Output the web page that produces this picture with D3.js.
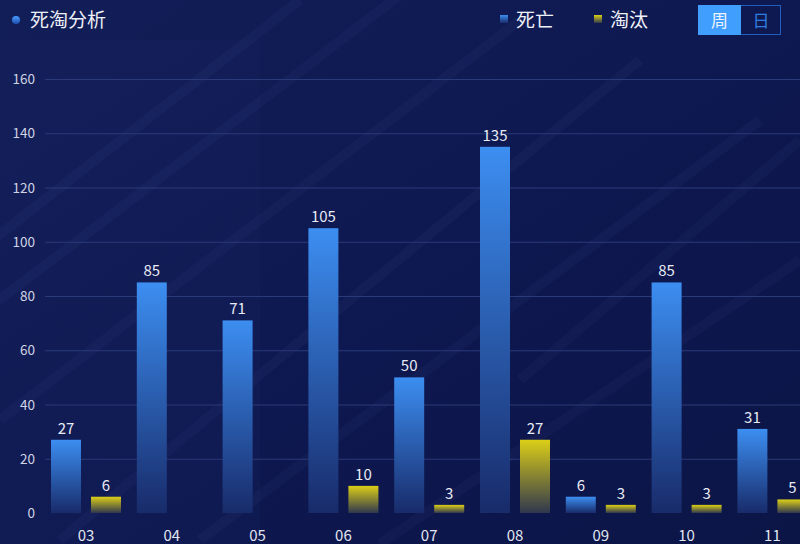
<!DOCTYPE html>
<html>
<head>
<meta charset="utf-8">
<script src="https://cdn.jsdelivr.net/npm/d3@7"></script>
<style>
  html, body { margin: 0; padding: 0; background: #0c1648; }
  svg { display: block; font-family: "Noto Sans CJK SC", "Noto Sans", sans-serif; }
</style>
</head>
<body>
<svg id="chart" width="800" height="544"></svg>
<script>
// Weekly death / cull counts
const weeks = ["03", "04", "05", "06", "07", "08", "09", "10", "11"];
const deaths = [27, 85, 71, 105, 50, 135, 6, 85, 31];
const culls = [6, null, null, 10, 3, 27, 3, 3, 5];
const yTicks = [0, 20, 40, 60, 80, 100, 120, 140, 160];
const seriesNames = ["死亡", "淘汰"];
const title = "死淘分析";
const toggles = ["周", "日"];

const W = 800, H = 544;
const svg = d3.select("#chart");
const defs = svg.append("defs");

// Background with a faint diagonal texture
const bg = defs.append("linearGradient").attr("id", "bg").attr("x1", 0).attr("y1", 0).attr("x2", 1).attr("y2", 1);
bg.append("stop").attr("offset", "0%").attr("stop-color", "#121e57");
bg.append("stop").attr("offset", "55%").attr("stop-color", "#0e1850");
bg.append("stop").attr("offset", "100%").attr("stop-color", "#0b1546");
svg.append("rect").attr("width", W).attr("height", H).attr("fill", "url(#bg)");

const texture = svg.append("g").attr("opacity", 0.03).attr("stroke", "#9fb4ff").attr("fill", "none");
[[-40, 330, 420, -20], [0, 420, 520, 20], [60, 540, 640, 60], [200, 540, 760, 120], [380, 544, 800, 260],
 [-20, 250, 300, 0], [520, 380, 800, 140]].forEach(s => {
  texture.append("line").attr("x1", s[0]).attr("y1", s[1]).attr("x2", s[2]).attr("y2", s[3]).attr("stroke-width", 10);
});
svg.append("rect").attr("x", 0).attr("y", 40).attr("width", 260).attr("height", 504)
  .attr("fill", "#3a4f9a").attr("opacity", 0.05);

// Gradients for bars and markers
function vGrad(id, top, bottom) {
  const g = defs.append("linearGradient").attr("id", id).attr("x1", 0).attr("y1", 0).attr("x2", 0).attr("y2", 1);
  g.append("stop").attr("offset", "0%").attr("stop-color", top);
  g.append("stop").attr("offset", "100%").attr("stop-color", bottom);
}
vGrad("gDeath", "#3c8ef1", "#182b6a");
vGrad("gCull", "#dccf17", "#30374e");
vGrad("gDot", "#4a9cff", "#1c4db0");

// Scales
const bandW = 85.8, x0 = 86 - bandW / 2;
const x = d3.scaleBand().domain(weeks).range([x0, x0 + bandW * weeks.length]);
const y = d3.scaleLinear().domain([0, 160]).range([513, 79]);
const barW = 30, gap = 10;

// Grid lines
svg.append("g").selectAll("line").data(yTicks.slice(1)).join("line")
  .attr("x1", 45).attr("x2", W)
  .attr("y1", d => y(d) + 0.5).attr("y2", d => y(d) + 0.5)
  .attr("stroke", "#2b3a78").attr("stroke-width", 1);

// Y axis labels
svg.append("g").selectAll("text").data(yTicks).join("text")
  .attr("x", 35).attr("y", d => y(d) + 5)
  .attr("text-anchor", "end").attr("font-size", 13.5).attr("fill", "#d0d4e4")
  .text(d => d);

// X axis labels
svg.append("g").selectAll("text").data(weeks).join("text")
  .attr("x", d => x(d) + bandW / 2).attr("y", 541)
  .attr("text-anchor", "middle").attr("font-size", 15).attr("fill", "#e2e6f2")
  .text(d => d);

// Bars
const bars = svg.append("g");
function drawSeries(values, offset, fill) {
  const data = weeks.map((w, i) => ({ w, v: values[i] })).filter(d => d.v != null);
  bars.append("g").selectAll("rect").data(data).join("rect")
    .attr("x", d => x(d.w) + bandW / 2 + offset)
    .attr("y", d => y(d.v))
    .attr("width", barW)
    .attr("height", d => y(0) - y(d.v))
    .attr("fill", fill);
  bars.append("g").selectAll("text").data(data).join("text")
    .attr("x", d => x(d.w) + bandW / 2 + offset + barW / 2)
    .attr("y", d => y(d.v) - 6)
    .attr("text-anchor", "middle").attr("font-size", 15).attr("fill", "#e8ebf5")
    .text(d => d.v);
}
drawSeries(deaths, -(barW + gap / 2), "url(#gDeath)");
drawSeries(culls, gap / 2, "url(#gCull)");

// Title
svg.append("circle").attr("cx", 16).attr("cy", 20).attr("r", 4).attr("fill", "url(#gDot)");
svg.append("text").attr("x", 30).attr("y", 27).attr("font-size", 19).attr("fill", "#eef1f8").text(title);

// Legend
const legend = svg.append("g");
const legendX = [500, 594];
const legendFill = ["url(#gDeath)", "url(#gCull)"];
seriesNames.forEach((name, i) => {
  legend.append("rect").attr("x", legendX[i]).attr("y", 15).attr("width", 8).attr("height", 8)
    .attr("fill", legendFill[i]);
  legend.append("text").attr("x", legendX[i] + 16).attr("y", 27).attr("font-size", 19)
    .attr("fill", "#eef1f8").text(name);
});

// Week / day toggle
const tg = svg.append("g");
tg.append("rect").attr("x", 698.5).attr("y", 5.5).attr("width", 82).attr("height", 29)
  .attr("fill", "none").attr("stroke", "#1f5fc0").attr("stroke-width", 1);
tg.append("rect").attr("x", 698).attr("y", 5).attr("width", 43).attr("height", 30).attr("fill", "#409eff");
tg.append("text").attr("x", 719.5).attr("y", 27).attr("text-anchor", "middle").attr("font-size", 17)
  .attr("fill", "#eef4ff").text(toggles[0]);
tg.append("text").attr("x", 761).attr("y", 27).attr("text-anchor", "middle").attr("font-size", 17)
  .attr("fill", "#2f7de0").text(toggles[1]);
</script>
</body>
</html>
